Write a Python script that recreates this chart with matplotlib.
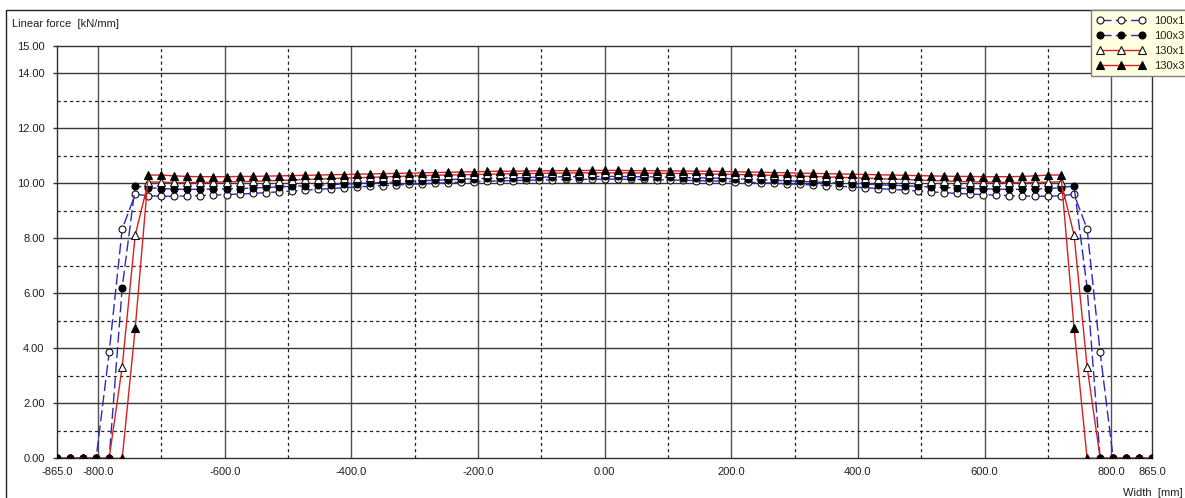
import numpy as np
import matplotlib
matplotlib.use('Agg')
import matplotlib.pyplot as plt
from matplotlib.patches import Rectangle

# ---------------- data ----------------
positions_mm = np.linspace(-865.0, 865.0, 85)   # measurement stations across the width

force_100x1 = [0, 0, 0, 0, 3.85, 8.34, 9.60, 9.55, 9.53, 9.53, 9.54, 9.55, 9.57, 9.59, 9.61, 9.63,
               9.66, 9.69, 9.72, 9.75, 9.78, 9.81, 9.84, 9.87, 9.89, 9.92, 9.94, 9.96, 9.98, 10.00,
               10.02, 10.04, 10.06, 10.08, 10.09, 10.10, 10.11, 10.12, 10.13, 10.14, 10.14, 10.15, 10.15,
               10.15, 10.14, 10.14, 10.13, 10.12, 10.11, 10.10, 10.09, 10.08, 10.06, 10.04, 10.02, 10.00,
               9.98, 9.96, 9.94, 9.92, 9.89, 9.87, 9.84, 9.81, 9.78, 9.75, 9.72, 9.69, 9.66, 9.63, 9.61,
               9.59, 9.57, 9.55, 9.54, 9.53, 9.53, 9.55, 9.60, 8.34, 3.85, 0, 0, 0, 0]

force_100x3 = [0, 0, 0, 0, 0, 6.20, 9.90, 9.84, 9.81, 9.79, 9.78, 9.78, 9.79, 9.80, 9.81, 9.83,
               9.85, 9.87, 9.89, 9.91, 9.93, 9.95, 9.97, 9.99, 10.01, 10.03, 10.05, 10.07, 10.09, 10.11,
               10.13, 10.15, 10.16, 10.18, 10.19, 10.20, 10.21, 10.22, 10.23, 10.24, 10.24, 10.25, 10.25,
               10.25, 10.24, 10.24, 10.23, 10.22, 10.21, 10.20, 10.19, 10.18, 10.16, 10.15, 10.13, 10.11,
               10.09, 10.07, 10.05, 10.03, 10.01, 9.99, 9.97, 9.95, 9.93, 9.91, 9.89, 9.87, 9.85, 9.83,
               9.81, 9.80, 9.79, 9.78, 9.78, 9.79, 9.81, 9.84, 9.90, 6.20, 0, 0, 0, 0, 0]

force_130x1 = [0, 0, 0, 0, 0, 3.33, 8.12, 10.05, 10.04, 10.03, 10.03, 10.03, 10.04, 10.05, 10.06,
               10.07, 10.09, 10.10, 10.12, 10.14, 10.15, 10.17, 10.19, 10.20, 10.22, 10.23, 10.25, 10.26,
               10.28, 10.29, 10.30, 10.31, 10.32, 10.33, 10.34, 10.35, 10.36, 10.36, 10.37, 10.37, 10.38,
               10.38, 10.38,
               10.38, 10.38, 10.37, 10.37, 10.36, 10.36, 10.35, 10.34, 10.33, 10.32, 10.31, 10.30, 10.29,
               10.28, 10.26, 10.25, 10.23, 10.22, 10.20, 10.19, 10.17, 10.15, 10.14, 10.12, 10.10, 10.09,
               10.07, 10.06, 10.05, 10.04, 10.03, 10.03, 10.03, 10.04, 10.05, 8.12, 3.33, 0, 0, 0, 0, 0]

force_130x3 = [0, 0, 0, 0, 0, 0, 4.73, 10.30, 10.30, 10.27, 10.25, 10.24, 10.24, 10.24, 10.25,
               10.25, 10.26, 10.27, 10.28, 10.29, 10.30, 10.31, 10.32, 10.33, 10.34, 10.35, 10.36, 10.37,
               10.38, 10.39, 10.40, 10.41, 10.42, 10.43, 10.44, 10.44, 10.45, 10.45, 10.46, 10.46, 10.46,
               10.47, 10.47,
               10.47, 10.46, 10.46, 10.46, 10.45, 10.45, 10.44, 10.44, 10.43, 10.42, 10.41, 10.40, 10.39,
               10.38, 10.37, 10.36, 10.35, 10.34, 10.33, 10.32, 10.31, 10.30, 10.29, 10.28, 10.27, 10.26,
               10.25, 10.25, 10.24, 10.24, 10.24, 10.25, 10.27, 10.30, 10.30, 4.73, 0, 0, 0, 0, 0, 0]

series_labels = ["100x1", "100x3", "130x1", "130x3"]

x_major_ticks = [-865, -800, -600, -400, -200, 0, 200, 400, 600, 800, 865]
x_major_labels = ["-865.0", "-800.0", "-600.0", "-400.0", "-200.0", "0.00",
                  "200.0", "400.0", "600.0", "800.0", "865.0"]
x_minor_ticks = [-700, -500, -300, -100, 100, 300, 500, 700]
y_major_ticks = [0, 2, 4, 6, 8, 10, 12, 14, 15]
y_major_labels = ["0.00", "2.00", "4.00", "6.00", "8.00", "10.00", "12.00", "14.00", "15.00"]
y_minor_ticks = [1, 3, 5, 7, 9, 11, 13]

# ---------------- figure ----------------
plt.rcParams['font.family'] = ['Liberation Sans', 'DejaVu Sans']
W, H = 1185, 498
fig = plt.figure(figsize=(W / 100, H / 100), dpi=100)
fig.patch.set_facecolor('white')

# outer frame (left and top edges visible)
fig.patches.append(Rectangle((6 / W, -0.2), 1.2, 1.2 - 10 / H, transform=fig.transFigure,
                             fill=False, edgecolor='#202020', lw=1.0, zorder=0))

ax_l, ax_r = 57, 1152.3
ax_b, ax_t = 458.3, 45.8
ax = fig.add_axes([ax_l / W, 1 - ax_b / H, (ax_r - ax_l) / W, (ax_b - ax_t) / H])
ax.set_xlim(-865, 865)
ax.set_ylim(0, 15)

# grid
for xv in x_major_ticks[1:-1]:
    ax.axvline(xv, color='#505050', lw=1.0, zorder=1)
for xv in x_minor_ticks:
    ax.axvline(xv, color='#202020', lw=0.9, ls=(0, (2.5, 2.5)), zorder=1)
for yv in y_major_ticks[1:-1]:
    ax.axhline(yv, color='#383838', lw=1.0, zorder=1)
for yv in y_minor_ticks:
    ax.axhline(yv, color='#202020', lw=0.9, ls=(0, (2.5, 2.5)), zorder=1)

blue = '#2a2ac0'
red = '#d82020'
ax.plot(positions_mm, force_100x1, color=blue, lw=1.0, ls=(0, (8, 3)),
        marker='o', ms=5, mfc='white', mec='#101010', mew=0.8, label=series_labels[0], zorder=3)
ax.plot(positions_mm, force_100x3, color=blue, lw=1.0, ls=(0, (8, 3)),
        marker='o', ms=5, mfc='black', mec='black', mew=0.8, label=series_labels[1], zorder=4)
ax.plot(positions_mm, force_130x1, color=red, lw=1.0, ls='-',
        marker='^', ms=6, mfc='white', mec='#101010', mew=0.8, label=series_labels[2], zorder=5)
ax.plot(positions_mm, force_130x3, color=red, lw=1.0, ls='-',
        marker='^', ms=6, mfc='black', mec='black', mew=0.8, label=series_labels[3], zorder=6)

ax.set_xticks(x_major_ticks)
ax.set_xticklabels(x_major_labels)
ax.set_yticks(y_major_ticks)
ax.set_yticklabels(y_major_labels)
ax.tick_params(axis='x', length=0, pad=6, labelsize=8, labelcolor='#202020')
ax.tick_params(axis='y', length=3, width=1, color='#303030', pad=6, labelsize=8, labelcolor='#202020')
for sp in ax.spines.values():
    sp.set_color('#303030')
    sp.set_linewidth(1.0)

fig.text(12 / W, 1 - 24 / H, "Linear force  [kN/mm]", fontsize=8, color='#202020',
         ha='left', va='center')
fig.text(1123 / W, 1 - 493 / H, "Width  [mm]", fontsize=8, color='#202020',
         ha='left', va='center')

leg = fig.legend(loc='upper left', bbox_to_anchor=(1091 / W, 1 - 10 / H), borderaxespad=0,
                 fontsize=8, numpoints=3, handlelength=4.4, handletextpad=0.8,
                 labelspacing=0.45, borderpad=0.5, frameon=True, fancybox=False,
                 facecolor='#ffffe1', edgecolor='#808080', framealpha=1.0)
leg.get_frame().set_linewidth(1.0)
for t in leg.get_texts():
    t.set_color('#202020')

fig.savefig('out.png', dpi=100)
